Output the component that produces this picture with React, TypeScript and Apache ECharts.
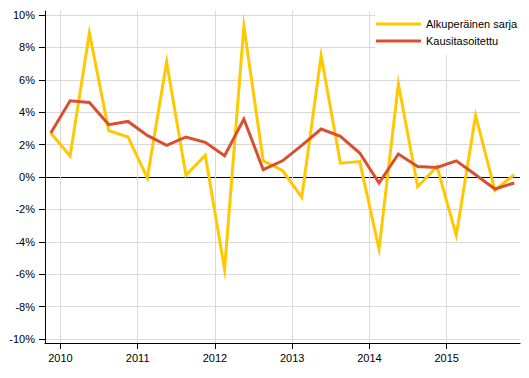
import React, { useEffect, useRef } from 'react';
import * as echarts from 'echarts';

// Quarters (2009Q4 .. 2015Q4)
const years = [2009, 2010, 2010, 2010, 2010, 2011, 2011, 2011, 2011, 2012, 2012, 2012, 2012, 2013, 2013, 2013, 2013, 2014, 2014, 2014, 2014, 2015, 2015, 2015, 2015];
const quarterNo = [4, 1, 2, 3, 4, 1, 2, 3, 4, 1, 2, 3, 4, 1, 2, 3, 4, 1, 2, 3, 4, 1, 2, 3, 4];

const originalSeries = [2.72, 1.3, 8.9, 2.86, 2.47, -0.05, 7.1, 0.1, 1.35, -5.7, 9.3, 1.0, 0.4, -1.25, 7.5, 0.85, 0.95, -4.45, 5.75, -0.6, 0.65, -3.6, 3.8, -0.82, 0.15];
const adjustedSeries = [2.72, 4.71, 4.6, 3.23, 3.43, 2.57, 1.95, 2.47, 2.14, 1.31, 3.58, 0.45, 1.0, 1.95, 2.96, 2.51, 1.48, -0.37, 1.42, 0.65, 0.59, 1.0, 0.14, -0.74, -0.37];

const yearTicks = [2010, 2011, 2012, 2013, 2014, 2015];
const percentTicks = [-10, -8, -6, -4, -2, 0, 2, 4, 6, 8, 10];

const seriesNames = ['Alkuperäinen sarja', 'Kausitasoitettu'];
const seriesColors = ['#FFC800', '#D9502F'];

const FONT = '"Liberation Sans", Arial, Helvetica, sans-serif';

export default function App() {
  const ref = useRef<HTMLDivElement>(null);

  useEffect(() => {
    if (!ref.current) return;
    const chart = echarts.init(ref.current, undefined, { renderer: 'svg' });
    const xPos = years.map((y, i) => y + (quarterNo[i] - 0.5) / 4);
    const mk = (vals: number[]) => vals.map((v, i) => [xPos[i], v]);
    const splitColors = percentTicks.map((v) => (v === 0 ? '#000000' : '#d9d9d9'));

    chart.setOption({
      animation: false,
      backgroundColor: '#ffffff',
      textStyle: { fontFamily: FONT },
      grid: { left: 45, right: 9, top: 11, bottom: 35, containLabel: false },
      legend: {
        data: seriesNames.map((n) => ({ name: n, icon: 'rect' })),
        orient: 'vertical',
        left: 375,
        top: 11,
        padding: [7, 4, 8, 1],
        backgroundColor: '#ffffff',
        itemWidth: 45,
        itemHeight: 3,
        itemGap: 5,
        textStyle: { fontFamily: FONT, fontSize: 11, color: '#000', lineHeight: 12 },
      },
      xAxis: {
        type: 'value',
        min: 2009.8,
        max: 2015.95,
        axisLine: { show: true, onZero: false, lineStyle: { color: '#000', width: 1 } },
        axisTick: { show: true, length: 6, customValues: yearTicks, lineStyle: { color: '#000' } },
        axisLabel: {
          customValues: yearTicks,
          formatter: (v: number) => String(Math.round(v)),
          fontFamily: FONT,
          fontSize: 11,
          color: '#000',
          margin: 9,
        },
        splitLine: { show: true, lineStyle: { color: '#d9d9d9', width: 1 } },
      },
      yAxis: {
        type: 'value',
        min: -10.25,
        max: 10.25,
        axisLine: { show: true, onZero: false, lineStyle: { color: '#000', width: 1 } },
        axisTick: { show: true, length: 6, customValues: percentTicks, lineStyle: { color: '#000' } },
        axisLabel: {
          customValues: percentTicks,
          formatter: (v: number) => `${Math.round(v)}%`,
          fontFamily: FONT,
          fontSize: 11,
          color: '#000',
          margin: 10,
        },
        splitLine: { show: true, lineStyle: { color: splitColors, width: 1 } },
      },
      series: [
        {
          name: seriesNames[0],
          type: 'line',
          data: mk(originalSeries),
          color: seriesColors[0],
          showSymbol: false,
          symbol: 'none',
          lineStyle: { width: 3, color: seriesColors[0], join: 'miter', miterLimit: 20 },
          z: 3,
        },
        {
          name: seriesNames[1],
          type: 'line',
          data: mk(adjustedSeries),
          color: seriesColors[1],
          showSymbol: false,
          symbol: 'none',
          lineStyle: { width: 3, color: seriesColors[1], join: 'miter', miterLimit: 20 },
          z: 4,
        },
      ],
    });
    return () => chart.dispose();
  }, []);

  return (
    <div
      ref={ref}
      style={{ position: 'fixed', left: 0, top: 0, width: 529, height: 378, background: '#fff' }}
    />
  );
}
